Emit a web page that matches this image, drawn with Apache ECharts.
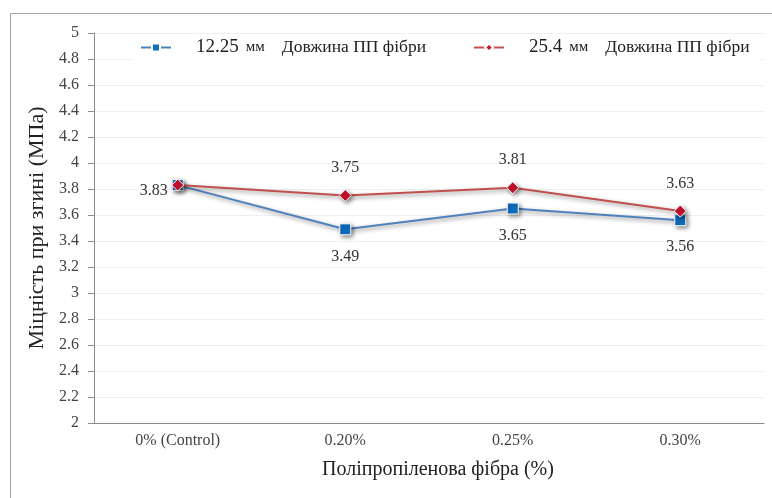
<!DOCTYPE html>
<html><head><meta charset="utf-8">
<script src="https://cdn.jsdelivr.net/npm/echarts@6/dist/echarts.min.js"></script>
<style>html,body{margin:0;padding:0;background:#fff}#c{width:772px;height:498px}</style>
</head><body><div id="c"></div>
<script>
var categories = ['0% (Control)', '0.20%', '0.25%', '0.30%'];
var lengths = ['12.25', '25.4'];
var unitLabel = 'мм';
var legendSuffix = 'Довжина ПП фібри';
var blueValues = [3.83, 3.49, 3.65, 3.56];
var redValues = [3.83, 3.75, 3.81, 3.63];
var yTitle = 'Міцність при згині (МПа)';
var xTitle = 'Поліпропіленова фібра (%)';

var FONT = '"Liberation Serif", "Times New Roman", serif';
var chart = echarts.init(document.getElementById('c'));

function mkData(vals, firstLabel) {
  return vals.map(function (v, i) {
    if (i === 0) return { value: v, label: firstLabel };
    return v;
  });
}

var shadow = { shadowBlur: 4, shadowColor: 'rgba(0,0,0,0.45)', shadowOffsetX: 2, shadowOffsetY: 2 };

chart.setOption({
  animation: false,
  textStyle: { fontFamily: FONT },
  graphic: [{
    type: 'rect', left: 8, top: 11,
    shape: { width: 800, height: 520 },
    style: { fill: 'none', stroke: '#a6a6a6', lineWidth: 1 },
    z: -10
  }],
  grid: { left: 94, right: 8, top: 33, bottom: 75 },
  legend: {
    left: 132, top: 35,
    backgroundColor: '#fff',
    padding: [3, 10, 3, 8],
    itemWidth: 30, itemHeight: 10, itemGap: 47,
    data: ['s0', 's1'],
    formatter: function (name) {
      var i = name === 's0' ? 0 : 1;
      return '{a|' + lengths[i] + '}{b|' + unitLabel + '}{c|' + legendSuffix + '}';
    },
    textStyle: {
      fontFamily: FONT, color: '#222',
      rich: {
        a: { fontFamily: FONT, fontSize: 19, color: '#222', padding: [0, 0, 0, 20] },
        b: { fontFamily: FONT, fontSize: 15, color: '#222', padding: [0, 0, 0, 7] },
        c: { fontFamily: FONT, fontSize: 17.5, color: '#222', padding: [0, 0, 0, 17] }
      }
    }
  },
  xAxis: {
    type: 'category', data: categories, boundaryGap: true,
    axisLine: { lineStyle: { color: '#8c8c8c' } },
    axisTick: { alignWithLabel: true, length: 5, lineStyle: { color: '#8c8c8c' } },
    axisLabel: { fontFamily: FONT, fontSize: 16, color: '#444', margin: 10 },
    name: xTitle, nameLocation: 'middle', nameGap: 37,
    nameTextStyle: { fontFamily: FONT, fontSize: 20, color: '#222', padding: [0, 0, 0, 18] }
  },
  yAxis: {
    type: 'value', min: 2, max: 5, interval: 0.2,
    axisLine: { show: true, lineStyle: { color: '#8c8c8c' } },
    axisTick: { show: true, length: 6, lineStyle: { color: '#8c8c8c' } },
    splitLine: { lineStyle: { color: '#f0f0f0' } },
    axisLabel: { fontFamily: FONT, fontSize: 16, color: '#444', margin: 15,
      formatter: function (v) { return String(Math.round(v * 10) / 10); } },
    name: yTitle, nameLocation: 'middle', nameGap: 46,
    nameTextStyle: { fontFamily: FONT, fontSize: 22, color: '#222' }
  },
  series: [{
    name: 's0', type: 'line',
    data: mkData(blueValues, { show: true, position: 'left', distance: 4, offset: [0, 6] }),
    symbol: 'rect', symbolSize: 11,
    lineStyle: Object.assign({ color: '#4f81bd', width: 2 }, shadow),
    itemStyle: Object.assign({ color: '#0f6fc0', borderColor: '#fff', borderWidth: 1 }, shadow),
    label: { show: true, position: 'bottom', distance: 13, fontFamily: FONT, fontSize: 16, color: '#333' },
    z: 2
  }, {
    name: 's1', type: 'line',
    data: mkData(redValues, { show: false }),
    symbol: 'diamond', symbolSize: 12,
    lineStyle: Object.assign({ color: '#c0504d', width: 2 }, shadow),
    itemStyle: Object.assign({ color: '#c8102e', borderColor: '#fff', borderWidth: 1 }, shadow),
    label: { show: true, position: 'top', distance: 13, fontFamily: FONT, fontSize: 16, color: '#333' },
    z: 3
  }]
});
</script></body></html>
